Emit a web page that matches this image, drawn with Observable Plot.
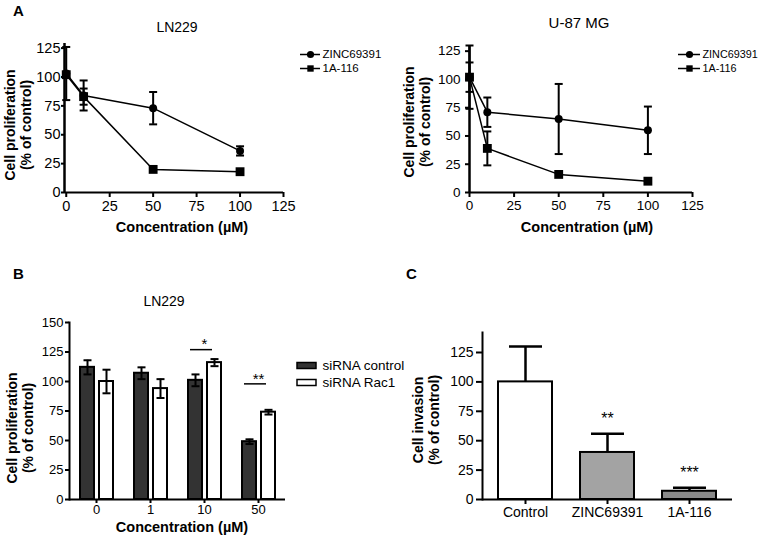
<!DOCTYPE html>
<html><head><meta charset="utf-8">
<script src="https://cdn.jsdelivr.net/npm/d3@7"></script>
<script src="https://cdn.jsdelivr.net/npm/@observablehq/plot@0.6"></script>
<style>
body{margin:0;background:#fff;}
#root{position:relative;width:759px;height:541px;overflow:hidden;background:#fff;font-family:"Liberation Sans",Arial,sans-serif;}
#root svg{position:absolute;margin:0;max-width:none;}
.letter{position:absolute;font:bold 15px "Liberation Sans",Arial,sans-serif;line-height:1;}
</style></head><body><div id="root"></div>
<script>
// ---------- Panel A data ----------
const seriesA = ["ZINC69391", "1A-116"];
const concA = [0, 10, 50, 100];
const ln229Zinc = [103, 84, 73, 36];
const ln229ZincErr = [23, 13, 14, 4];
const ln229A116 = [102, 83, 20, 18];
const ln229A116Err = [0, 7, 0, 0];
const u87Zinc = [102, 71, 65, 55];
const u87ZincErr = [13, 13, 31, 21];
const u87A116 = [102, 39, 16, 10];
const u87A116Err = [28, 15, 0, 0];
const ticksA = [0, 25, 50, 75, 100, 125];

// ---------- Panel B data ----------
const concB = ["0", "1", "10", "50"];
const sirnaGroups = ["siRNA control", "siRNA Rac1"];
const sirnaControl = [112, 107, 101, 49];
const sirnaControlErr = [6, 5, 5, 2];
const sirnaRac1 = [100, 94, 116, 74];
const sirnaRac1Err = [10, 8, 3, 2];
const sigBConc = ["10", "50"];
const sigBLevel = [127, 98];
const sigBLabel = ["*", "**"];
const ticksB = [0, 25, 50, 75, 100, 125, 150];

// ---------- Panel C data ----------
const treatC = ["Control", "ZINC69391", "1A-116"];
const invasion = [100, 40, 7];
const invasionErr = [30, 16, 3];
const sigC = ["", "**", "***"];
const ticksC = [0, 25, 50, 75, 100, 125];

const FONT = "Liberation Sans, Arial, sans-serif";
const baseStyle = {fontFamily: FONT, fontSize: "13px", background: "transparent", overflow: "visible", color: "black"};
const cap = {draw(ctx, size) { const w = Math.sqrt(size / Math.PI); ctx.moveTo(-w, 0); ctx.lineTo(w, 0); }};
const root = document.getElementById("root");
function place(el, left, top) { el.style.position = "absolute"; el.style.left = left + "px"; el.style.top = top + "px"; root.appendChild(el); }
const yTitle = (label, dx, dy) => Plot.text([label], {text: d => d, frameAnchor: "left", textAnchor: "middle", lineAnchor: "middle", rotate: -90, dx, dy, fontSize: 14, fontWeight: "bold", lineHeight: 1.18});
const topTitle = (label, dx, dy, size) => Plot.text([label], {text: d => d, frameAnchor: "top", textAnchor: "middle", lineAnchor: "middle", dx, dy, fontSize: size});
const xTitle = (label, dx, dy) => Plot.text([label], {text: d => d, frameAnchor: "bottom", textAnchor: "middle", lineAnchor: "middle", dx, dy, fontSize: 14.5, fontWeight: "bold"});

function tidyA(zinc, zincErr, a116, a116Err) {
  return seriesA.flatMap((s, k) => concA.map((c, i) => ({series: s, conc: c, v: k ? a116[i] : zinc[i], e: k ? a116Err[i] : zincErr[i]})));
}

function panelA(o) {
  const data = o.data, errs = data.filter(d => d.e > 0);
  return Plot.plot({
    width: o.width, height: o.height,
    marginLeft: o.ml, marginRight: o.mr, marginTop: o.mt, marginBottom: o.mb,
    style: {...baseStyle, fontSize: o.fs + "px"},
    x: {domain: o.xDomain},
    y: {domain: o.yDomain},
    symbol: {domain: seriesA, range: ["circle", "square"]},
    marks: [
      Plot.axisX({ticks: ticksA, tickSize: 5, tickPadding: 3, strokeWidth: 2, label: null}),
      Plot.axisY({ticks: ticksA, tickSize: o.ytick, tickPadding: o.ypad, strokeWidth: 2, label: null}),
      Plot.ruleY([0], {strokeWidth: 2}),
      Plot.ruleX([o.xDomain[0]], {strokeWidth: 2.5}),
      Plot.line(data, {x: "conc", y: "v", z: "series", stroke: "black", strokeWidth: 1.5}),
      Plot.ruleX(errs, {x: "conc", y1: d => d.v - d.e, y2: d => d.v + d.e, strokeWidth: 2}),
      Plot.dot(errs, {x: "conc", y: d => d.v + d.e, symbol: cap, r: 4, stroke: "black", strokeWidth: 2, fill: "none"}),
      Plot.dot(errs, {x: "conc", y: d => d.v - d.e, symbol: cap, r: 4, stroke: "black", strokeWidth: 2, fill: "none"}),
      Plot.dot(data.filter(d => d.series === seriesA[0]), {x: "conc", y: "v", symbol: "series", r: 4, fill: "black", stroke: "none"}),
      Plot.dot(data.filter(d => d.series === seriesA[1]), {x: "conc", y: "v", symbol: "series", r: 5, fill: "black", stroke: "none"}),
      topTitle(o.title, o.tdx, o.tdy, o.tfs),
      yTitle("Cell proliferation\n(% of control)", o.ydx, o.ydy),
      xTitle("Concentration (\u00b5M)", o.xdx, 35)
    ]
  });
}

function legendA(lineW, width, fs) {
  return Plot.plot({
    width, height: 30, margin: 0,
    style: {...baseStyle, fontSize: fs + "px"},
    x: {domain: [0, 1], range: [0, lineW], axis: null},
    y: {type: "point", domain: seriesA, range: [7, 21], padding: 0, axis: null},
    symbol: {domain: seriesA, range: ["circle", "square"]},
    marks: [
      Plot.ruleY(seriesA, {y: d => d, x1: 0, x2: 1, strokeWidth: 1.5}),
      Plot.dot(seriesA, {x: 0.5, y: d => d, symbol: d => d, r: 3.6, fill: "black", stroke: "none"}),
      Plot.text(seriesA, {x: 1, y: d => d, text: d => d, dx: 2, textAnchor: "start", fontSize: fs})
    ]
  });
}

// ---- Panel A left: LN229
place(panelA({
  data: tidyA(ln229Zinc, ln229ZincErr, ln229A116, ln229A116Err), title: "LN229", tfs: 14, fs: 14.5,
  width: 300, height: 245, ml: 64, mr: 17, mt: 43, mb: 53,
  xDomain: [-1, 125], yDomain: [0, 129], ytick: 3, ypad: 1,
  tdx: 3, tdy: -16, ydx: -47, ydy: 7, xdx: 8
}), 0, 0);
place(legendA(20, 80, 11.5), 300, 47);

// ---- Panel A right: U-87 MG
place(panelA({
  data: tidyA(u87Zinc, u87ZincErr, u87A116, u87A116Err), title: "U-87 MG", tfs: 15, fs: 13.5,
  width: 330, height: 245, ml: 89, mr: 18, mt: 45, mb: 53,
  xDomain: [0, 125], yDomain: [0, 130], ytick: 4, ypad: 5,
  tdx: -2, tdy: -22, ydx: -53, ydy: 3, xdx: 6
}), 380, 0);
place(legendA(22, 81, 10.8), 678, 47);

// ---- Panel B
const tidyB = concB.flatMap((c, i) => [
  {conc: c, group: sirnaGroups[0], v: sirnaControl[i], e: sirnaControlErr[i]},
  {conc: c, group: sirnaGroups[1], v: sirnaRac1[i], e: sirnaRac1Err[i]}
]);
const sigB = sigBConc.map((c, i) => ({conc: c, level: sigBLevel[i], label: sigBLabel[i]}));
const colorB = {domain: sirnaGroups, range: ["#333333", "#ffffff"]};
const frameB = {width: 300, height: 281, marginLeft: 67, marginRight: 14, marginTop: 62, marginBottom: 42};
place(Plot.plot({
  ...frameB,
  style: {...baseStyle, fontSize: "13px"},
  fx: {domain: concB, padding: 0},
  x: {domain: sirnaGroups, paddingInner: 0.275, paddingOuter: 0.505, axis: null},
  y: {domain: [0, 150]},
  color: colorB,
  marks: [
    Plot.barY(tidyB, {fx: "conc", x: "group", y: "v", fill: "group", stroke: "black", strokeWidth: 2}),
    Plot.ruleX(tidyB, {fx: "conc", x: "group", y1: d => d.v - d.e, y2: d => d.v + d.e, strokeWidth: 2}),
    Plot.dot(tidyB, {fx: "conc", x: "group", y: d => d.v + d.e, symbol: cap, r: 4, stroke: "black", strokeWidth: 2, fill: "none"}),
    Plot.dot(tidyB, {fx: "conc", x: "group", y: d => d.v - d.e, symbol: cap, r: 4, stroke: "black", strokeWidth: 2, fill: "none"}),
    Plot.ruleY(sigB, {fx: "conc", y: "level", x1: () => sirnaGroups[0], x2: () => sirnaGroups[1], insetLeft: 2, insetRight: 9, strokeWidth: 1.5}),
    Plot.text(sigB, {fx: "conc", y: "level", text: "label", dy: -5, fontSize: 15}),
    Plot.axisFx({anchor: "bottom", tickSize: 4, tickPadding: 1, strokeWidth: 2, label: null}),
    Plot.axisY({ticks: ticksB, tickSize: 4, tickPadding: 2, strokeWidth: 2, label: null}),
    Plot.ruleY([0], {strokeWidth: 2}),
    Plot.frame({anchor: "left", facetAnchor: "left", strokeWidth: 2})
  ]
}), 0, 260);

// titles of panel B (same frame, no facets)
place(Plot.plot({
  ...frameB,
  style: baseStyle,
  marks: [
    topTitle("LN229", -13, -21, 14),
    yTitle("Cell proliferation\n(% of control)", -48, 17),
    xTitle("Concentration (\u00b5M)", 5, 28)
  ]
}), 0, 260);

// legend B
place(Plot.plot({
  width: 120, height: 42, margin: 0,
  style: {...baseStyle, fontSize: "14px"},
  x: {domain: [0, 1], range: [7, 26], axis: null},
  y: {domain: sirnaGroups, range: [4.5, 38.5], padding: 0, axis: null},
  color: colorB,
  marks: [
    Plot.barX(sirnaGroups, {x1: 0, x2: 1, y: d => d, fill: d => d, stroke: "black", strokeWidth: 1.5, insetTop: 5.5, insetBottom: 5.5}),
    Plot.text(sirnaGroups, {x: 1, y: d => d, text: d => d, dx: 6, textAnchor: "start", fontSize: 13.5})
  ]
}), 290, 352);

// ---- Panel C
const tidyC = treatC.map((t, i) => ({t, v: invasion[i], e: invasionErr[i], sig: sigC[i]}));
place(Plot.plot({
  width: 359, height: 281, marginLeft: 82, marginRight: 27, marginTop: 72, marginBottom: 42,
  style: {...baseStyle, fontSize: "14px"},
  x: {domain: treatC, paddingInner: 0.337, paddingOuter: 0.175},
  y: {domain: [0, 142]},
  color: {domain: treatC, range: ["#ffffff", "#a3a3a3", "#8a8a8a"]},
  marks: [
    Plot.barY(tidyC, {x: "t", y: "v", fill: "t", stroke: "black", strokeWidth: 2}),
    Plot.ruleX(tidyC, {x: "t", y1: "v", y2: d => d.v + d.e, strokeWidth: 2.5}),
    Plot.dot(tidyC, {x: "t", y: d => d.v + d.e, symbol: cap, r: 16.5, stroke: "black", strokeWidth: 2.5, fill: "none"}),
    Plot.text(tidyC, {x: "t", y: d => d.v + d.e, text: "sig", dy: -15, fontSize: 16}),
    Plot.axisX({tickSize: 5, tickPadding: 3, strokeWidth: 2, label: null}),
    Plot.axisY({ticks: ticksC, tickSize: 6, tickPadding: 3, strokeWidth: 2, label: null}),
    Plot.ruleY([0], {strokeWidth: 2}),
    Plot.frame({anchor: "left", strokeWidth: 2}),
    yTitle("Cell invasion\n(% of control)", -57, 4)
  ]
}), 400, 260);

// panel letters
[["A", 13, 3], ["B", 13, 266], ["C", 406, 266]].forEach(([t, x, y]) => {
  const d = document.createElement("div"); d.className = "letter"; d.textContent = t;
  d.style.left = x + "px"; d.style.top = y + "px"; root.appendChild(d);
});
</script></body></html>
